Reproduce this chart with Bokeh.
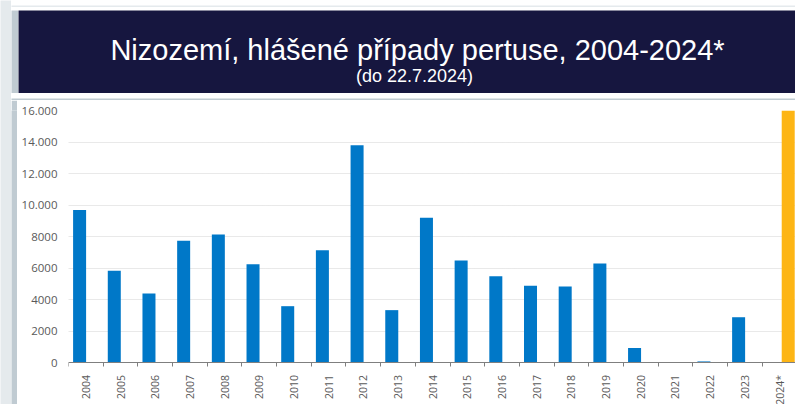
from bokeh.plotting import figure
from bokeh.models import Range1d, FixedTicker, Label
from bokeh.layouts import column, row
from bokeh.transform import dodge
from bokeh.embed import file_html
from bokeh.resources import INLINE
from math import pi

years = ["2004", "2005", "2006", "2007", "2008", "2009", "2010", "2011", "2012", "2013",
         "2014", "2015", "2016", "2017", "2018", "2019", "2020", "2021", "2022", "2023", "2024*"]
reported = [9700, 5850, 4400, 7750, 8150, 6250, 3600, 7150, 13800, 3350,
            9200, 6500, 5500, 4900, 4850, 6300, 950, 0, 100, 2900]
current_year = ["2024*"]
current = [16000]
y_ticks = [0, 2000, 4000, 6000, 8000, 10000, 12000, 14000, 16000]
y_tick_labels = ["0", "2000", "4000", "6000", "8000", "10.000", "12.000", "14.000", "16.000"]
title_text = "Nizozemí, hlášené případy pertuse, 2004-2024*"
subtitle_text = "(do 22.7.2024)"

NAVY = "#16163f"
PANEL = "#c0cbd2"
OUTER = "#e5eaed"
BLUE = "#0078c8"
ORANGE = "#fdb515"


def plain(w, h, color):
    f = figure(width=w, height=h, x_range=Range1d(0, w), y_range=Range1d(0, h),
               output_backend="svg", toolbar_location=None, min_border=0,
               x_axis_location=None, y_axis_location=None)
    f.background_fill_color = color
    f.border_fill_color = color
    f.outline_line_color = None
    f.grid.visible = False
    return f


# ---- banner ----
banner = plain(777, 83, NAVY)
banner.add_layout(Label(x=399, y=44, text=title_text, text_align="center", text_baseline="alphabetic",
                        text_color="white", text_font="Liberation Sans", text_font_size="29px"))
banner.add_layout(Label(x=396, y=17.5, text=subtitle_text, text_align="center", text_baseline="alphabetic",
                        text_color="white", text_font="Liberation Sans", text_font_size="18px"))

# ---- chart ----
n = len(years)
x_all = list(range(n))
x_blue = x_all[:len(reported)]
x_orange = [years.index(c) for c in current_year]

p = figure(width=778, height=304, x_range=Range1d(-0.5, 20.46), y_range=Range1d(-2630, 16000),
           output_backend="svg", toolbar_location=None,
           min_border_top=10, min_border_bottom=0, min_border_left=51, min_border_right=0)
p.background_fill_color = "white"
p.border_fill_color = "white"
p.outline_line_color = None

p.vbar(x=dodge("x", -0.18), top="top", width=0.375, source=dict(x=x_blue, top=reported),
       fill_color=BLUE, line_color=None)
p.vbar(x=dodge("x", 0.25), top="top", width=0.375, source=dict(x=x_orange, top=current),
       fill_color=ORANGE, line_color=None)

p.xgrid.visible = False
p.ygrid.grid_line_color = "#d3d3d3"
p.ygrid.grid_line_dash = "1 1"
p.ygrid.ticker = FixedTicker(ticks=y_ticks)

yax = p.yaxis[0]
yax.ticker = FixedTicker(ticks=y_ticks)
yax.major_label_overrides = {t: l for t, l in zip(y_ticks, y_tick_labels)}
yax.axis_line_color = None
yax.major_tick_line_color = None
yax.minor_tick_line_color = None
yax.major_label_text_font = "Open Sans"
yax.major_label_text_font_size = "11.5px"
yax.major_label_text_color = "#595959"
yax.major_label_standoff = 5

xax = p.xaxis[0]
xax.fixed_location = 0
xax.ticker = FixedTicker(ticks=x_all, minor_ticks=[i - 0.5 for i in range(n + 1)])
xax.major_label_overrides = {i: y for i, y in enumerate(years)}
xax.major_label_orientation = pi / 2
xax.axis_line_color = "#7f7f7f"
xax.major_tick_line_color = None
xax.major_tick_out = 0
xax.minor_tick_line_color = "#7f7f7f"
xax.minor_tick_in = 0
xax.minor_tick_out = 4
xax.major_label_text_font = "Open Sans"
xax.major_label_text_font_size = "10.5px"
xax.major_label_text_color = "#595959"
xax.major_label_standoff = 8

panel = column(
    plain(784, 3, PANEL),
    row(plain(7, 83, PANEL), banner, spacing=0),
    plain(784, 7, PANEL),
    row(plain(6, 304, PANEL), p, spacing=0),
    spacing=0,
)
layout = row(plain(11, 404, OUTER), column(plain(784, 7, OUTER), panel, spacing=0), spacing=0)

open("out.html", "w").write(file_html(layout, INLINE))
